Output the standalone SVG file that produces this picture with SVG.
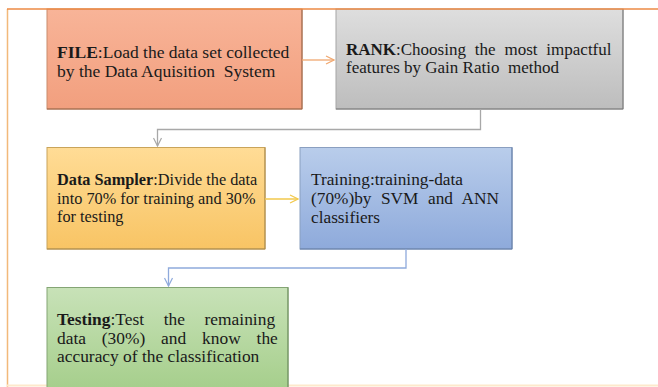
<svg xmlns="http://www.w3.org/2000/svg" width="658" height="387" viewBox="0 0 658 387">
  <defs>
    <linearGradient id="gFile" x1="0" y1="0" x2="0" y2="1">
      <stop offset="0" stop-color="#f8b498"/>
      <stop offset="1" stop-color="#f29f7e"/>
    </linearGradient>
    <linearGradient id="gRank" x1="0" y1="0" x2="0" y2="1">
      <stop offset="0" stop-color="#dedede"/>
      <stop offset="1" stop-color="#bdbdbd"/>
    </linearGradient>
    <linearGradient id="gSampler" x1="0" y1="0" x2="0" y2="1">
      <stop offset="0" stop-color="#ffdc96"/>
      <stop offset="1" stop-color="#f8c464"/>
    </linearGradient>
    <linearGradient id="gTrain" x1="0" y1="0" x2="0" y2="1">
      <stop offset="0" stop-color="#b9cdeb"/>
      <stop offset="1" stop-color="#8eaadb"/>
    </linearGradient>
    <linearGradient id="gTest" x1="0" y1="0" x2="0" y2="1">
      <stop offset="0" stop-color="#c8e2b8"/>
      <stop offset="1" stop-color="#a3cd88"/>
    </linearGradient>
    <marker id="arrOrange" viewBox="0 0 10 10" refX="9" refY="5" markerWidth="10" markerHeight="10" markerUnits="userSpaceOnUse" orient="auto">
      <path d="M1,1 L9,5 L1,9" fill="none" stroke="#f0a870" stroke-width="1.2"/>
    </marker>
    <marker id="arrYellow" viewBox="0 0 10 10" refX="9" refY="5" markerWidth="10" markerHeight="10" markerUnits="userSpaceOnUse" orient="auto">
      <path d="M1,1 L9,5 L1,9" fill="none" stroke="#f2c94c" stroke-width="1.2"/>
    </marker>
    <marker id="arrGray" viewBox="0 0 10 10" refX="9" refY="5" markerWidth="10" markerHeight="10" markerUnits="userSpaceOnUse" orient="auto">
      <path d="M1,1 L9,5 L1,9" fill="none" stroke="#a8a8a8" stroke-width="1.2"/>
    </marker>
    <marker id="arrBlue" viewBox="0 0 10 10" refX="9" refY="5" markerWidth="10" markerHeight="10" markerUnits="userSpaceOnUse" orient="auto">
      <path d="M1,1 L9,5 L1,9" fill="none" stroke="#8faadc" stroke-width="1.2"/>
    </marker>
  </defs>
  <style>
    .t { fill: #1a1a1a; }
    .b { font-weight: bold; }
    .conn { fill: none; stroke-width: 1.3; }
  </style>

  <rect x="0" y="0" width="658" height="387" fill="#ffffff"/>

  <!-- outer frame -->
  <g id="frame">
    <line x1="7.5" y1="9" x2="7.5" y2="387" stroke="#f2b97a" stroke-width="1.5"/>
    <line x1="7" y1="385.5" x2="658" y2="385.5" stroke="#fde9cc" stroke-width="2"/>
  </g>

  <!-- FILE -->
  <g id="node-file">
    <rect x="47" y="9" width="255" height="100" fill="url(#gFile)" stroke="#c98b6c" stroke-width="1"/>
    <path d="M47,109 H302 V9" fill="none" stroke="#9a6446" stroke-width="1"/>
    <text class="t" font-family="'Liberation Serif', Tinos, 'Times New Roman', 'DejaVu Serif', serif" font-size="17.5" xml:space="preserve"><tspan x="57" y="58"><tspan class="b">FILE</tspan>:Load the data set collected</tspan><tspan x="57" y="77">by the Data Aquisition  System</tspan></text>
  </g>

  <!-- RANK -->
  <g id="node-rank">
    <rect x="336" y="9" width="287" height="100" fill="url(#gRank)" stroke="#a5a5a5" stroke-width="1"/>
    <path d="M336,109 H623 V9" fill="none" stroke="#777777" stroke-width="1"/>
    <text class="t" font-family="'Liberation Serif', Tinos, 'Times New Roman', 'DejaVu Serif', serif" font-size="17" xml:space="preserve"><tspan x="346" y="55" word-spacing="4.6"><tspan class="b">RANK</tspan>:Choosing the most impactful</tspan><tspan x="346" y="73">features by Gain Ratio  method</tspan></text>
  </g>

  <!-- Data Sampler -->
  <g id="node-sampler">
    <rect x="47" y="147.5" width="218" height="101.5" fill="url(#gSampler)" stroke="#c9a45a" stroke-width="1"/>
    <path d="M47,249 H265 V147.5" fill="none" stroke="#a8884a" stroke-width="1"/>
    <text class="t" font-family="'Liberation Serif', Tinos, 'Times New Roman', 'DejaVu Serif', serif" font-size="16.3" xml:space="preserve"><tspan x="57" y="185"><tspan class="b">Data Sampler</tspan>:Divide the data</tspan><tspan x="57" y="203.5">into 70% for training and 30%</tspan><tspan x="57" y="222">for testing</tspan></text>
  </g>

  <!-- Training -->
  <g id="node-training">
    <rect x="300" y="147.5" width="212" height="101.5" fill="url(#gTrain)" stroke="#8a9fc0" stroke-width="1"/>
    <path d="M300,249 H512 V147.5" fill="none" stroke="#5f7aa6" stroke-width="1"/>
    <text class="t" font-family="'Liberation Serif', Tinos, 'Times New Roman', 'DejaVu Serif', serif" font-size="17.3" xml:space="preserve"><tspan x="311" y="185">Training:training-data</tspan><tspan x="311" y="204" word-spacing="5.2">(70%)by SVM and ANN</tspan><tspan x="311" y="223">classifiers</tspan></text>
  </g>

  <!-- Testing -->
  <g id="node-testing">
    <rect x="47" y="287.5" width="241" height="110" fill="url(#gTest)" stroke="#84a574" stroke-width="1"/>
    <path d="M288,287.5 V387" fill="none" stroke="#6f8f5f" stroke-width="1"/>
    <text class="t" font-family="'Liberation Serif', Tinos, 'Times New Roman', 'DejaVu Serif', serif" font-size="17.4" xml:space="preserve"><tspan x="57" y="325" word-spacing="15.3"><tspan class="b">Testing</tspan>:Test the remaining</tspan><tspan x="57" y="343.5" word-spacing="11.5">data (30%) and know the</tspan><tspan x="57" y="362">accuracy of the classification</tspan></text>
  </g>

  <!-- connectors -->
  <g id="connectors">
    <path class="conn" d="M302,60 H334" stroke="#f0a870" marker-end="url(#arrOrange)"/>
    <path class="conn" d="M480.5,109 V129.5 H157.5 V146" stroke="#a8a8a8" marker-end="url(#arrGray)"/>
    <path class="conn" d="M265,199 H298" stroke="#f2c94c" marker-end="url(#arrYellow)"/>
    <path class="conn" d="M406,249 V268 H168.5 V286" stroke="#8faadc" marker-end="url(#arrBlue)"/>
  </g>

  <!-- top rule of the frame drawn over the box tops -->
  <line x1="7" y1="9" x2="658" y2="9" stroke="#ed8a45" stroke-width="1.6"/>
</svg>
